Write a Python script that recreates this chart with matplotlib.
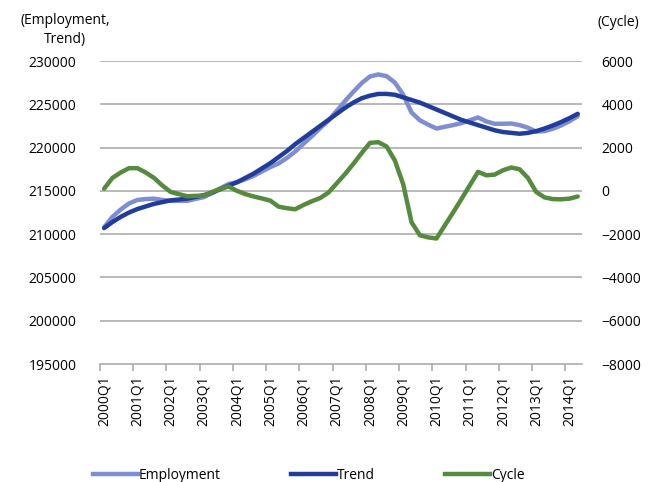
import matplotlib
matplotlib.use("Agg")
import matplotlib.pyplot as plt
from matplotlib.lines import Line2D

# quarterly series, 2000Q1 .. 2014Q2
quarters = [f"{y}Q{q}" for y in range(2000, 2015) for q in range(1, 5)][:58]

employment = [210800, 212000, 212850, 213550, 213950, 214050, 214100, 213950,
              213850, 213850, 213850, 214070, 214280, 214750, 215300, 215800,
              216000, 216350, 216740, 217250, 217750, 218170, 218800, 219550,
              220450, 221320, 222250, 223120, 224250, 225380, 226450, 227450,
              228220, 228450, 228250, 227500, 226100, 224050, 223150, 222650,
              222200, 222400, 222600, 222820, 223150, 223480, 223020, 222750,
              222750, 222780, 222600, 222300, 221850, 221900, 222170, 222560,
              223040, 223640]

trend = [210700, 211400, 212000, 212500, 212900, 213200, 213500, 213700,
         213900, 214000, 214100, 214300, 214500, 214800, 215200, 215600,
         216000, 216500, 217000, 217600, 218200, 218900, 219600, 220400,
         221100, 221800, 222500, 223200, 223900, 224600, 225200, 225700,
         226000, 226200, 226200, 226100, 225800, 225500, 225200, 224800,
         224400, 224000, 223600, 223200, 222900, 222600, 222300, 222000,
         221800, 221700, 221600, 221700, 221900, 222200, 222550, 222950,
         223400, 223900]

cycle = [100, 600, 850, 1050, 1050, 850, 600, 250,
         -50, -150, -250, -230, -220, -50, 100, 200,
         0, -150, -260, -350, -450, -730, -800, -850,
         -650, -480, -330, -80, 350, 780, 1250, 1750,
         2220, 2250, 2050, 1400, 300, -1450, -2050, -2150,
         -2200, -1600, -1000, -380, 250, 880, 720, 750,
         950, 1080, 1000, 600, -50, -300, -380, -390,
         -360, -260]

x = list(range(len(quarters)))

fig = plt.figure(figsize=(6.56, 4.82), dpi=100)
ax = fig.add_axes([0.1524, 0.2448, 0.7346, 0.6286])
ax2 = ax.twinx()

grid_c = "#A6A6A6"
font = "Open Sans"
fs = 10
c_emp, c_trend, c_cyc = "#7F8ED0", "#213D9B", "#548B3D"

for v in range(200000, 230001, 5000):
    ax.axhline(v, color=grid_c, lw=1.1, zorder=0)

ax.plot(x, employment, color=c_emp, lw=3.2, solid_capstyle="round", zorder=3)
ax.plot(x, trend, color=c_trend, lw=3.2, solid_capstyle="round", zorder=4)
ax2.plot(x, cycle, color=c_cyc, lw=3.2, solid_capstyle="round")

ax.set_xlim(-0.5, len(quarters) - 0.5)
ax.set_ylim(195000, 230000)
ax2.set_ylim(-8000, 6000)
ax.set_yticks(range(195000, 230001, 5000))
ax2.set_yticks(range(-8000, 6001, 2000))

for a in (ax, ax2):
    for s in a.spines.values():
        s.set_visible(False)
ax.spines["bottom"].set_visible(True)
ax.spines["bottom"].set_color(grid_c)
ax.spines["bottom"].set_linewidth(1.1)

ax.set_xticks(x[::4])
ax.set_xticklabels(quarters[::4], rotation=90, fontsize=fs, family=font)
ax.set_xticks([i - 0.5 for i in x[::4]], minor=True)
ax.tick_params(axis="x", which="major", length=0, pad=8)
ax.tick_params(axis="x", which="minor", length=5, color=grid_c, width=1.1)
ax.tick_params(axis="y", length=0, pad=17)
ax2.tick_params(axis="y", length=0, pad=14)
for lab in ax.get_yticklabels() + ax2.get_yticklabels():
    lab.set_fontsize(fs)
    lab.set_family(font)

fig.text(0.099, 0.972, "(Employment,\nTrend)", ha="center", va="top",
         fontsize=fs, family=font, linespacing=1.35)
fig.text(0.942, 0.968, "(Cycle)", ha="center", va="top", fontsize=fs, family=font)

handles = [Line2D([], [], color=c_emp, lw=3.2),
           Line2D([], [], color=c_trend, lw=3.2),
           Line2D([], [], color=c_cyc, lw=3.2)]
fig.legend(handles, ["Employment", "Trend", "Cycle"], loc="lower center",
           bbox_to_anchor=(0.471, -0.027), ncol=3, frameon=False,
           handlelength=3.2, handletextpad=0.1, columnspacing=5.05,
           prop={"family": font, "size": fs})

fig.savefig("out.png", dpi=100)
